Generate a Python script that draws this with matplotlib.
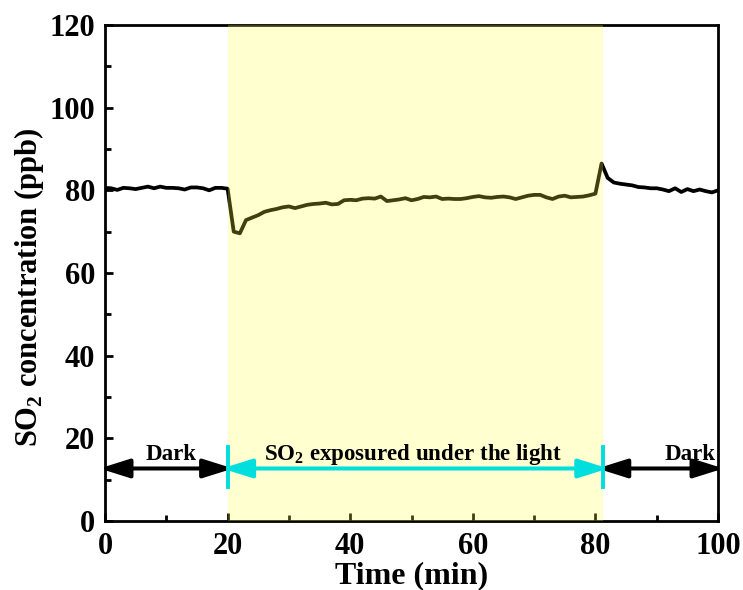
import numpy as np
import matplotlib
matplotlib.use('Agg')
import matplotlib.pyplot as plt

plt.rcParams['font.family'] = 'Liberation Serif'
plt.rcParams['font.weight'] = 'bold'
plt.rcParams['mathtext.fontset'] = 'custom'
plt.rcParams['mathtext.rm'] = 'Liberation Serif:bold'
plt.rcParams['mathtext.bf'] = 'Liberation Serif:bold'

# SO2 concentration (ppb) vs time (min)
time = list(range(0, 101))
so2 = [80.6, 80.5, 80.1, 80.6, 80.5, 80.3, 80.6, 80.9, 80.5, 80.9,
       80.6, 80.6, 80.5, 80.2, 80.7, 80.7, 80.5, 80.0, 80.6, 80.6,
       80.4, 70.0, 69.6, 72.8, 73.4, 74.0, 74.8, 75.2, 75.5, 75.9,
       76.1, 75.7, 76.1, 76.5, 76.7, 76.8, 77.0, 76.6, 76.7, 77.6,
       77.7, 77.6, 78.0, 78.1, 78.0, 78.5, 77.4, 77.6, 77.8, 78.1,
       77.6, 77.9, 78.4, 78.3, 78.5, 77.9, 78.0, 77.9, 77.9, 78.1,
       78.4, 78.6, 78.3, 78.2, 78.4, 78.5, 78.3, 77.9, 78.3, 78.7,
       78.9, 78.9, 78.3, 77.9, 78.5, 78.7, 78.3, 78.4, 78.5, 78.8,
       79.2, 86.5, 83.0, 81.9, 81.6, 81.4, 81.2, 80.8, 80.7, 80.5,
       80.5, 80.2, 79.8, 80.5, 79.6, 80.3, 79.8, 80.2, 79.8, 79.5,
       80.0]

light_on = 20
light_off = 81.2
arrow_y = 12.7
labels = ['Dark', 'SO$_\\mathrm{2}$ exposured under the light', 'Dark']
label_x = [10.8, 50.3, 95.5]
# (start, end, colour) of the period arrows
periods = [(0, light_on, 'black'), (light_on, light_off, '#00dede'), (light_off, 100, 'black')]

fig = plt.figure(figsize=(7.43, 5.90), dpi=100)
ax = fig.add_axes([0.1413, 0.117, 0.8251, 0.8406])

ax.plot(time, so2, color='black', lw=2.7, zorder=2)
ax.axvspan(light_on, light_off, color=(1, 1, 0.25), alpha=0.25, lw=0, zorder=3)

# period arrows; the thick stroke leaves the tips a bit short, so stretch them slightly
arrow_kw = dict(arrowstyle='<|-|>,head_length=0.7,head_width=0.22',
                mutation_scale=26, lw=2.9, shrinkA=0, shrinkB=0)
stretch = 0.9
for x0, x1, c in periods:
    ax.annotate('', xy=(x0 - stretch, arrow_y), xytext=(x1 + stretch, arrow_y),
                arrowprops=dict(color=c, **arrow_kw), zorder=4, annotation_clip=False)
for xv in [light_on, light_off]:
    ax.plot([xv, xv], [8.2, 17.9], color='#00dede', lw=2.8, zorder=5)

for lx, lab in zip(label_x, labels):
    ax.text(lx, 14.8, lab, ha='center', va='baseline', fontsize=16.5, fontweight='bold')

ax.set_xlim(0, 100)
ax.set_ylim(0, 120)
ax.set_xticks(np.arange(0, 101, 20))
ax.set_xticks(np.arange(0, 101, 10), minor=True)
ax.set_yticks(np.arange(0, 121, 20))
ax.set_yticks(np.arange(0, 121, 10), minor=True)
ax.tick_params(which='both', direction='in', width=2, labelsize=22, top=False, right=False)
ax.tick_params(axis='x', which='major', pad=8)
ax.tick_params(axis='y', which='major', pad=7)
ax.tick_params(which='major', length=6)
ax.tick_params(which='minor', length=4)
for s in ax.spines.values():
    s.set_linewidth(2)

ax.set_xlabel('Time (min)', fontsize=23, fontweight='bold', labelpad=0)
ax.set_ylabel('SO$_\\mathrm{2}$ concentration (ppb)', fontsize=22, fontweight='bold')
ax.yaxis.set_label_coords(-0.097, 0.472)

fig.savefig('out.png', dpi=100)
